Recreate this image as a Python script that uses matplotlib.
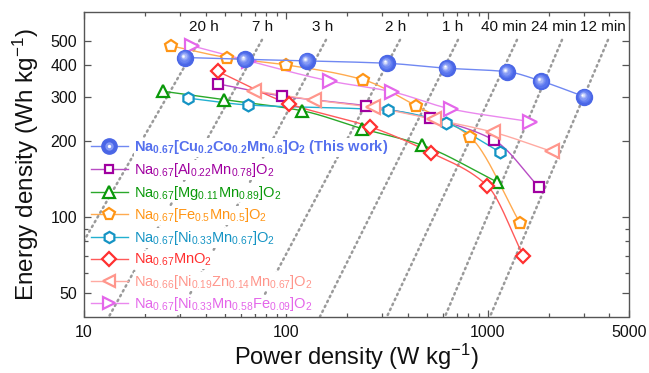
import numpy as np
import matplotlib
matplotlib.use('Agg')
import matplotlib.pyplot as plt
from matplotlib.lines import Line2D
from matplotlib.legend_handler import HandlerTuple
import matplotlib.transforms as mtransforms
from matplotlib.ticker import FixedLocator, NullFormatter, FixedFormatter

plt.rcParams['font.family'] = ['Liberation Sans', 'DejaVu Sans']
plt.rcParams['mathtext.fontset'] = 'custom'
plt.rcParams['mathtext.rm'] = 'Liberation Sans'
plt.rcParams['mathtext.it'] = 'Liberation Sans:italic'
plt.rcParams['mathtext.bf'] = 'Liberation Sans:bold'

# ---------------- data ----------------
cu_power = [31.6, 62.4, 126.7, 315.5, 625.6, 1240, 1833, 3003]
cu_energy = [429, 422, 416, 407, 389, 377, 346, 300]
al_power = [46.2, 95.1, 249.2, 518.7, 1069, 1797]
al_energy = [337, 302, 276, 246, 202, 131]
mg_power = [24.7, 49.2, 119.7, 238.9, 470.4, 1106]
mg_energy = [315, 292, 264, 224, 193, 138]
fe_power = [27.0, 50.9, 100, 241.7, 440.8, 820, 1443]
fe_energy = [477, 429, 401, 350, 276, 207, 94.6]
ni_power = [32.7, 65.1, 321.4, 620.5, 1148]
ni_energy = [296, 278, 265, 236, 181]
mn_power = [45.9, 103.9, 260.8, 521, 994, 1498]
mn_energy = [378, 281, 228, 180, 133, 70.2]
zn_power = [69.2, 137.7, 269, 541, 1060, 2071]
zn_energy = [317, 291, 272, 244, 217, 182]
nife_power = [34.3, 66.0, 165.3, 334, 657, 1617]
nife_energy = [477, 415, 346, 314, 268, 239]

labels = [
    r'$\mathbf{Na_{0.67}[Cu_{0.2}Co_{0.2}Mn_{0.6}]O_{2}\ (This\ work)}$',
    r'Na$_{0.67}$[Al$_{0.22}$Mn$_{0.78}$]O$_{2}$',
    r'Na$_{0.67}$[Mg$_{0.11}$Mn$_{0.89}$]O$_{2}$',
    r'Na$_{0.67}$[Fe$_{0.5}$Mn$_{0.5}$]O$_{2}$',
    r'Na$_{0.67}$[Ni$_{0.33}$Mn$_{0.67}$]O$_{2}$',
    r'Na$_{0.67}$MnO$_{2}$',
    r'Na$_{0.66}$[Ni$_{0.19}$Zn$_{0.14}$Mn$_{0.67}$]O$_{2}$',
    r'Na$_{0.67}$[Ni$_{0.33}$Mn$_{0.58}$Fe$_{0.09}$]O$_{2}$',
]

# iso-time guide lines
guide_labels = ['20 h', '7 h', '3 h', '2 h', '1 h', '40 min', '24 min', '12 min']
guide_label_power = [39.1, 77, 151.8, 351, 672, 1202, 2126, 3695]
guide_top_power = [37.5, 76.1, 157.9, 367.2, 711.4, 1394, 2329, 3936]
guide_top_energy = [504, 504, 504, 504, 504, 504, 504, 504]
guide_end_power = [10, 13.3, 29.2, 68.7, 147.5, 316.6, 613.4, 1025]
guide_end_energy = [80.5, 40.3, 40.3, 40.3, 40.3, 40.3, 40.3, 40.3]

x_ticks = [10, 100, 1000, 5000]
y_ticks = [50, 100, 200, 300, 400, 500]


def smooth(xs, ys, n=40):
    lx = np.log10(np.asarray(xs, float))
    ly = np.log10(np.asarray(ys, float))
    h = np.diff(lx)
    d = np.diff(ly) / h
    m = np.zeros_like(lx)
    m[0], m[-1] = d[0], d[-1]
    for k in range(1, len(lx) - 1):
        if d[k - 1] * d[k] <= 0:
            m[k] = 0
        else:
            w1 = 2 * h[k] + h[k - 1]
            w2 = h[k] + 2 * h[k - 1]
            m[k] = (w1 + w2) / (w1 / d[k - 1] + w2 / d[k])
    ox, oy = [], []
    t = np.linspace(0, 1, n)
    h00 = 2 * t**3 - 3 * t**2 + 1
    h10 = t**3 - 2 * t**2 + t
    h01 = -2 * t**3 + 3 * t**2
    h11 = t**3 - t**2
    for k in range(len(h)):
        ox.append(lx[k] + t * h[k])
        oy.append(h00 * ly[k] + h10 * h[k] * m[k] + h01 * ly[k + 1] + h11 * h[k] * m[k + 1])
    return 10 ** np.concatenate(ox), 10 ** np.concatenate(oy)


fig = plt.figure(figsize=(6.49, 3.73), dpi=100)
ax = fig.add_axes([84 / 649, 1 - 316.5 / 373, 545 / 649, 304.5 / 373])
ax.set_xscale('log')
ax.set_yscale('log')
ax.set_xlim(10, 5000)
ax.set_ylim(40.3, 650)

# guide lines
for p0, e0, p1, e1 in zip(guide_top_power, guide_top_energy, guide_end_power, guide_end_energy):
    ax.plot([p0, p1], [e0, e1], color='#9a9a9a', lw=1.8, linestyle=(0, (0.6, 1.6)),
            dash_capstyle='round', zorder=1)
ytxt = mtransforms.blended_transform_factory(ax.transData, ax.transAxes)
for lab, p in zip(guide_labels, guide_label_power):
    ax.text(p, 0.95, lab, transform=ytxt, ha='center', va='center', fontsize=11, color='#111111')

series = [
    (al_power, al_energy, 's', '#a000a0', '#b84cc4', 6.5),
    (mg_power, mg_energy, '^', '#0a990a', '#2aa82a', 9),
    (fe_power, fe_energy, 'p', '#ff9515', '#ffab50', 9),
    (ni_power, ni_energy, 'h', '#1594c4', '#22b0d0', 8.5),
    (mn_power, mn_energy, 'D', '#ff3030', '#ff5a5a', 7),
    (zn_power, zn_energy, '<', '#ff968c', '#ffaaa2', 9.5),
    (nife_power, nife_energy, '>', '#e466ea', '#ea88ee', 9.5),
]
handles = []
for px, py, mk, mc, lc, ms in series:
    sx, sy = smooth(px, py)
    ax.plot(sx, sy, color=lc, lw=1.0, zorder=2)
    ax.plot(px, py, linestyle='none', marker=mk, ms=ms, mfc='white', mec=mc, mew=1.6, zorder=3)
    handles.append(Line2D([], [], color=lc, lw=1.0, marker=mk, ms=ms * 0.95, mfc='white', mec=mc, mew=1.6))

# blue spheres
blue_line = '#7088f2'
sx, sy = smooth(cu_power, cu_energy)
ax.plot(sx, sy, color=blue_line, lw=1.0, zorder=4)
ax.plot(cu_power, cu_energy, linestyle='none', marker='o', ms=11.5, mfc='#4a66e6', mec='#4a66e6', zorder=5)
layers = [(9.7, '#5874ee', 0.3), (7.8, '#6a84f2', 0.55), (6.0, '#8499f5', 0.8),
          (4.2, '#a7b6f8', 1.0), (2.6, '#d4dcfb', 1.2), (1.4, '#ffffff', 1.3)]
for s, c, off in layers:
    tr = ax.transData + mtransforms.ScaledTranslation(-off / 72, off / 72, fig.dpi_scale_trans)
    ax.plot(cu_power, cu_energy, linestyle='none', marker='o', ms=s, mfc=c, mec='none',
            transform=tr, zorder=5)
h_base = Line2D([], [], color=blue_line, lw=1.0, marker='o', ms=11, mfc='#4a66e6', mec='#4a66e6')
h_mid = Line2D([], [], linestyle='none', marker='o', ms=6.0, mfc='#8499f5', mec='none')
h_hi = Line2D([], [], linestyle='none', marker='o', ms=2.4, mfc='#ffffff', mec='none')
handles.insert(0, (h_base, h_mid, h_hi))

text_colors = ['#5570ee', '#a000a0', '#0a990a', '#ff9515', '#1594c4', '#ff3030', '#ff968c', '#e466ea']
leg = ax.legend(handles, labels, loc='upper left', bbox_to_anchor=(0.012, 0.585), frameon=False,
                fontsize=10.5, handlelength=2.6, handletextpad=0.4, labelspacing=0.32,
                borderaxespad=0, borderpad=0,
                handler_map={tuple: HandlerTuple(ndivide=1, pad=0)})
leg.set_zorder(6)
for t, c in zip(leg.get_texts(), text_colors):
    t.set_color(c)
    t.set_bbox(dict(facecolor='white', edgecolor='none', pad=0.5))

# axes styling
ax.xaxis.set_major_locator(FixedLocator(x_ticks))
ax.xaxis.set_major_formatter(FixedFormatter([str(v) for v in x_ticks]))
ax.xaxis.set_minor_locator(FixedLocator([20, 30, 40, 50, 60, 70, 80, 90, 200, 300, 400, 500, 600,
                                         700, 800, 900, 2000, 3000, 4000]))
ax.xaxis.set_minor_formatter(NullFormatter())
ax.yaxis.set_major_locator(FixedLocator(y_ticks))
ax.yaxis.set_major_formatter(FixedFormatter([str(v) for v in y_ticks]))
ax.yaxis.set_minor_locator(FixedLocator([60, 70, 80, 90]))
ax.yaxis.set_minor_formatter(NullFormatter())
ax.tick_params(which='both', direction='in', top=True, right=True, colors='#555555',
               labelcolor='#111111', labelsize=11.5, width=0.9)
ax.tick_params(which='major', length=5)
ax.tick_params(which='minor', length=3)
ax.tick_params(axis='x', pad=6)
ax.tick_params(axis='y', pad=5)
for sp in ax.spines.values():
    sp.set_color('#555555')
    sp.set_linewidth(1.0)

ax.set_xlabel(r'Power density (W kg$^{-1}$)', fontsize=17, color='#111111')
ax.set_ylabel(r'Energy density (Wh kg$^{-1}$)', fontsize=17.5, color='#111111')
ax.xaxis.set_label_coords(0.5, -0.083)
ax.yaxis.set_label_coords(-0.078, 0.5)

fig.savefig('out.png', dpi=100)
